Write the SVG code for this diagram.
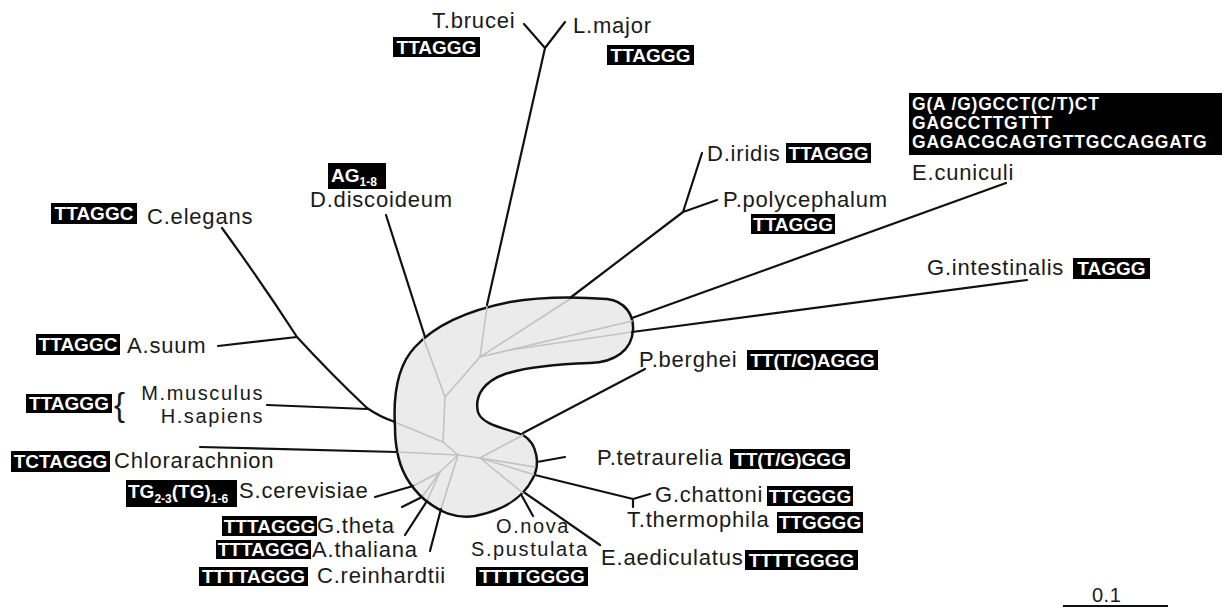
<svg xmlns="http://www.w3.org/2000/svg" width="1228" height="612" viewBox="0 0 1228 612">
<style>
.br{stroke:#111;stroke-width:2.2;fill:none;stroke-linecap:round;stroke-linejoin:round}
.gl{stroke:#c2c2c2;stroke-width:1.6;fill:none;stroke-linecap:round}
.lbl{font-family:"Liberation Sans",Arial,sans-serif;font-size:22px;letter-spacing:0.8px;fill:#1a1a1a}
.tight{font-size:20px;letter-spacing:1.6px}
.bx{fill:#000}
.sq{font-family:"Liberation Sans",Arial,sans-serif;font-size:19px;font-weight:bold;fill:#fff;text-anchor:middle}
.sql{font-family:"Liberation Sans",Arial,sans-serif;font-size:19px;font-weight:bold;fill:#fff}
.seq{font-family:"Liberation Sans",Arial,sans-serif;font-size:17.5px;font-weight:bold;fill:#fff;letter-spacing:0.8px}
.sub{font-size:12px}
</style>
<rect width="1228" height="612" fill="#fff"/>
<g id="core">
<path d="M395,427 C393,395 398,365 415,347 C435,325 470,310 510,302 C545,296 580,297 607,299 C625,301 634,315 633,330 C632,350 615,362 590,363 C560,364 530,366 505,374 C485,381 474,395 478,412 C482,425 505,428 523,435 C538,444 540,465 533,478 C523,498 505,510 475,516 C455,519 440,512 425,500 C410,487 400,470 397,450 C395,440 395,435 395,427 Z" fill="#ebebeb" stroke="#111" stroke-width="2.5"/>
<g class="gl">
<path d="M487,307 L480,357"/><path d="M570,299 L480,357"/><path d="M632,321 L480,357"/><path d="M632,332 L510,350"/>
<path d="M480,357 L445,397"/><path d="M423,337 L445,397"/><path d="M445,397 L443,442"/><path d="M397,423 L443,442"/>
<path d="M443,442 L458,455"/><path d="M398,452 L458,455"/><path d="M458,455 L480,458"/><path d="M480,458 L523,435"/>
<path d="M480,458 L535,467"/><path d="M480,458 L535,475"/><path d="M480,458 L523,493"/><path d="M458,455 L441,509"/>
<path d="M458,455 L440,472"/><path d="M440,472 L413,486"/><path d="M440,472 L422,497"/><path d="M440,472 L427,501"/>
</g>
</g>
<g id="connectors" class="br">
<path d="M487,305 L545,48 M545,48 L524,24 M545,48 L565,22"/>
<path d="M425,337 L386,215"/>
<path d="M222,228 Q262,283 297,337 Q330,373 367,408 Q380,417 395,422"/>
<path d="M218,346 L297,337"/>
<path d="M267,405 L367,409"/>
<path d="M200,447 L397,452"/>
<path d="M375,497 L413,486"/>
<path d="M402,507 L422,497"/>
<path d="M405,535 L427,501"/>
<path d="M430,551 L441,509"/>
<path d="M522,496 L533,516"/>
<path d="M525,493 L600,545"/>
<path d="M535,475 L633,499 M633,499 L650,494 M633,499 L633,507"/>
<path d="M537,462 L565,457"/>
<path d="M523,433 L645,369"/>
<path d="M632,332 L1027,280"/>
<path d="M632,318 L1006,183"/>
<path d="M570,298 L683,212 M683,212 L702,153 M683,212 L717,200"/>
</g>
<g id="n-tbrucei"><text class="lbl" x="432" y="28">T.brucei</text><rect class="bx" x="393" y="37" width="87" height="20"/><text class="sq" x="436.5" y="53.5">TTAGGG</text></g>
<g id="n-lmajor"><text class="lbl" x="573" y="33">L.major</text><rect class="bx" x="607" y="45" width="87" height="20"/><text class="sq" x="650.5" y="61.5">TTAGGG</text></g>
<g id="n-ecuniculi"><rect class="bx" x="909" y="93" width="313" height="62"/><text class="seq" x="912" y="110">G(A /G)GCCT(C/T)CT</text><text class="seq" x="912" y="129">GAGCCTTGTTT</text><text class="seq" x="912" y="148">GAGACGCAGTGTTGCCAGGATG</text><text class="lbl" x="912" y="180">E.cuniculi</text></g>
<g id="n-diridis"><text class="lbl" x="707" y="161">D.iridis</text><rect class="bx" x="786" y="143" width="85" height="20"/><text class="sq" x="828.5" y="159.5">TTAGGG</text></g>
<g id="n-ppoly"><text class="lbl" x="723" y="207">P.polycephalum</text><rect class="bx" x="751" y="214" width="84" height="20"/><text class="sq" x="793" y="230.5">TTAGGG</text></g>
<g id="n-ddisc"><rect class="bx" x="328" y="163" width="58" height="26"/><text class="sql" x="331" y="182">AG<tspan class="sub" dy="4">1-8</tspan></text><text class="lbl" x="310" y="207">D.discoideum</text></g>
<g id="n-celegans"><rect class="bx" x="51" y="203" width="86" height="21"/><text class="sq" x="94" y="220">TTAGGC</text><text class="lbl" x="147" y="224">C.elegans</text></g>
<g id="n-asuum"><rect class="bx" x="36" y="334" width="84" height="21"/><text class="sq" x="78" y="351">TTAGGC</text><text class="lbl" x="127" y="353">A.suum</text></g>
<g id="n-gint"><text class="lbl" x="927" y="275">G.intestinalis</text><rect class="bx" x="1073" y="258" width="77" height="21"/><text class="sq" x="1111.5" y="275">TAGGG</text></g>
<g id="n-pberghei"><text class="lbl" x="639" y="367">P.berghei</text><rect class="bx" x="747" y="350" width="131" height="20"/><text class="sq" x="812.5" y="366.5">TT(T/C)AGGG</text></g>
<g id="n-mammals"><rect class="bx" x="26" y="394" width="86" height="19"/><text class="sq" x="69" y="410">TTAGGG</text><text class="lbl" x="114" y="416" style="font-size:33px;letter-spacing:0">{</text><text class="lbl tight" x="264" y="400" text-anchor="end">M.musculus</text><text class="lbl tight" x="264" y="423" text-anchor="end">H.sapiens</text></g>
<g id="n-chlor"><rect class="bx" x="11" y="451" width="99" height="21"/><text class="sq" x="60.5" y="468">TCTAGGG</text><text class="lbl" x="114" y="468">Chlorarachnion</text></g>
<g id="n-scer"><rect class="bx" x="126" y="480" width="111" height="27"/><text class="sql" x="128" y="498">TG<tspan class="sub" dy="5">2-3</tspan><tspan dy="-5">(TG)</tspan><tspan class="sub" dy="5">1-6</tspan></text><text class="lbl" x="239" y="498">S.cerevisiae</text></g>
<g id="n-gtheta"><rect class="bx" x="222" y="516" width="95" height="20"/><text class="sq" x="269.5" y="532.5">TTTAGGG</text><text class="lbl" x="317" y="533">G.theta</text></g>
<g id="n-athal"><rect class="bx" x="216" y="540" width="95" height="19"/><text class="sq" x="263.5" y="556">TTTAGGG</text><text class="lbl" x="312" y="557">A.thaliana</text></g>
<g id="n-crein"><rect class="bx" x="199" y="567" width="109" height="19"/><text class="sq" x="253.5" y="583">TTTTAGGG</text><text class="lbl" x="317" y="583">C.reinhardtii</text></g>
<g id="n-onova"><text class="lbl tight" x="496" y="533">O.nova</text><text class="lbl tight" x="471" y="556">S.pustulata</text><rect class="bx" x="476" y="567" width="112" height="19"/><text class="sq" x="532" y="583">TTTTGGGG</text></g>
<g id="n-eaed"><text class="lbl" x="601" y="565">E.aediculatus</text><rect class="bx" x="745" y="550" width="113" height="20"/><text class="sq" x="801.5" y="566.5">TTTTGGGG</text></g>
<g id="n-ptet"><text class="lbl" x="597" y="465">P.tetraurelia</text><rect class="bx" x="730" y="449" width="120" height="20"/><text class="sq" x="790" y="465.5">TT(T/G)GGG</text></g>
<g id="n-gchat"><text class="lbl" x="655" y="502">G.chattoni</text><rect class="bx" x="767" y="486" width="86" height="20"/><text class="sq" x="810" y="502.5">TTGGGG</text></g>
<g id="n-ttherm"><text class="lbl" x="627" y="527">T.thermophila</text><rect class="bx" x="777" y="512" width="86" height="21"/><text class="sq" x="820" y="529">TTGGGG</text></g>
<g id="scale"><line x1="1063" y1="606" x2="1168" y2="606" stroke="#111" stroke-width="2"/><text class="lbl" x="1092" y="602" style="font-size:20px;letter-spacing:0.5px">0.1</text></g>
</svg>
